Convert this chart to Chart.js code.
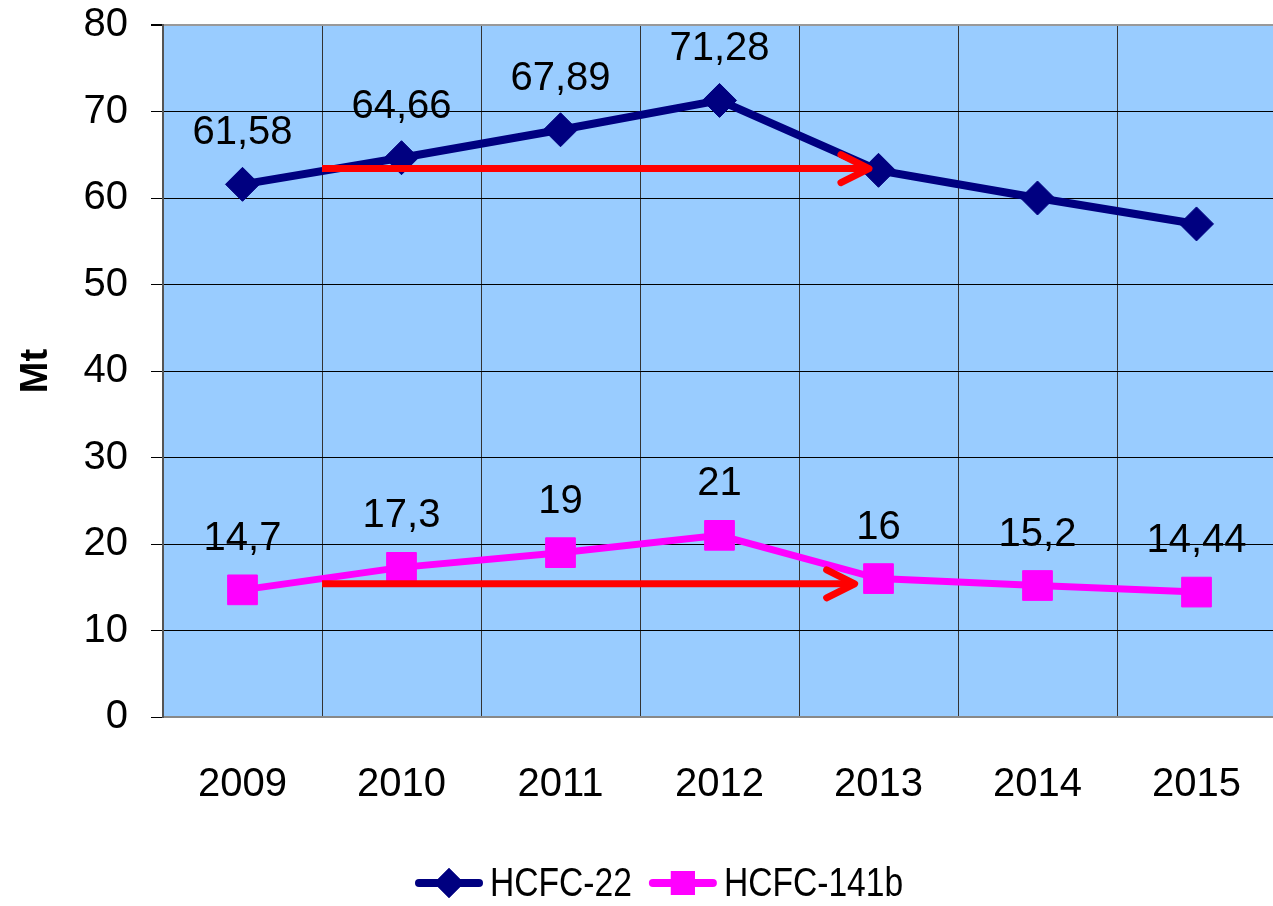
<!DOCTYPE html>
<html>
<head>
<meta charset="utf-8">
<script src="https://cdn.jsdelivr.net/npm/chart.js@4/dist/chart.umd.min.js"></script>
<style>
  html, body { margin: 0; padding: 0; background: #fff; overflow: hidden; }
  #wrap { width: 1273px; height: 906px; overflow: hidden; }
  canvas { display: block; }
</style>
</head>
<body>
<div id="wrap"><canvas id="hcfcChart" width="1280" height="906"></canvas></div>
<script>
// Datos del gráfico
const years = ["2009", "2010", "2011", "2012", "2013", "2014", "2015"];
const hcfc22 = [61.58, 64.66, 67.89, 71.28, 63.2, 60.0, 57.0];
const hcfc141b = [14.7, 17.3, 19, 21, 16, 15.2, 14.44];
// Cuántos puntos de cada serie llevan etiqueta
const labeled22 = 4;
const labeled141b = 7;
const yTicks = [0, 10, 20, 30, 40, 50, 60, 70, 80];

// Flechas rojas (índice de categoría inicial/final y nivel en Mt)
const arrowFrom = [0.5, 0.5];
const arrowTo = [3.94, 3.85];
const arrowLevel = [63.4, 15.4];

const NAVY = "#000080";
const MAGENTA = "#FF00FF";
const FONT = "'Liberation Sans', Arial, sans-serif";

Chart.defaults.font.family = FONT;
Chart.defaults.color = "#000";

const fmt = (v) => String(v).replace(".", ",");

// Fondo azul del área de trazado
const plotBackground = {
  id: "plotBackground",
  beforeDraw(chart) {
    const { ctx, chartArea: a } = chart;
    ctx.save();
    ctx.fillStyle = "#99CCFF";
    ctx.fillRect(a.left, a.top, a.right - a.left, a.bottom - a.top);
    ctx.restore();
  },
};

// Flechas rojas horizontales
const arrows = {
  id: "arrows",
  afterDatasetsDraw(chart) {
    const { ctx, scales } = chart;
    ctx.save();
    ctx.strokeStyle = "#FF0000";
    ctx.lineWidth = 7;
    arrowLevel.forEach((lvl, i) => {
      const y = scales.y.getPixelForValue(lvl);
      const x0 = scales.x.getPixelForValue(arrowFrom[i]);
      const x1 = scales.x.getPixelForValue(arrowTo[i]);
      ctx.lineCap = "butt";
      ctx.beginPath();
      ctx.moveTo(x0, y);
      ctx.lineTo(x1 - 3, y);
      ctx.stroke();
      ctx.lineCap = "round";
      ctx.lineJoin = "round";
      ctx.beginPath();
      ctx.moveTo(x1 - 28, y - 14);
      ctx.lineTo(x1, y);
      ctx.lineTo(x1 - 28, y + 14);
      ctx.stroke();
    });
    ctx.restore();
  },
};

// Etiquetas de valores sobre los puntos
const valueLabels = {
  id: "valueLabels",
  afterDatasetsDraw(chart) {
    const { ctx } = chart;
    const counts = [labeled22, labeled141b];
    ctx.save();
    ctx.font = "40px " + FONT;
    ctx.fillStyle = "#000";
    ctx.textAlign = "center";
    ctx.textBaseline = "middle";
    chart.data.datasets.forEach((ds, di) => {
      const meta = chart.getDatasetMeta(di);
      meta.data.forEach((pt, i) => {
        if (i >= counts[di]) return;
        ctx.fillText(fmt(ds.data[i]), pt.x, pt.y - 51);
      });
    });
    ctx.restore();
  },
};

// Leyenda con línea + marcador
const lineLegend = {
  id: "lineLegend",
  afterDraw(chart) {
    const { ctx } = chart;
    const y = 883;
    let x = 415;
    ctx.save();
    chart.data.datasets.forEach((ds) => {
      ctx.strokeStyle = ds.borderColor;
      ctx.lineWidth = 8;
      ctx.lineCap = "round";
      ctx.beginPath();
      ctx.moveTo(x + 4, y);
      ctx.lineTo(x + 64, y);
      ctx.stroke();
      ctx.fillStyle = ds.borderColor;
      Chart.helpers.drawPoint(
        ctx,
        { pointStyle: ds.pointStyle, radius: ds.pointStyle === "rect" ? 17 : 15, borderWidth: 0 },
        x + 34,
        y
      );
      ctx.fill();
      // texto algo comprimido horizontalmente, como en el original
      ctx.save();
      ctx.translate(x + 75, y);
      ctx.scale(0.84, 1);
      ctx.font = "40px " + FONT;
      ctx.fillStyle = "#000";
      ctx.textAlign = "left";
      ctx.textBaseline = "middle";
      ctx.fillText(ds.label, 0, 2);
      const w = ctx.measureText(ds.label).width * 0.84;
      ctx.restore();
      x += 75 + w + 17;
    });
    ctx.restore();
  },
};

new Chart(document.getElementById("hcfcChart"), {
  type: "line",
  data: {
    labels: years,
    datasets: [
      {
        label: "HCFC-22",
        data: hcfc22,
        borderColor: NAVY,
        backgroundColor: NAVY,
        borderWidth: 8,
        pointStyle: "rectRot",
        pointRadius: 17,
        pointBorderWidth: 1,
        pointBackgroundColor: NAVY,
        pointBorderColor: NAVY,
        tension: 0,
      },
      {
        label: "HCFC-141b",
        data: hcfc141b,
        borderColor: MAGENTA,
        backgroundColor: MAGENTA,
        borderWidth: 7,
        pointStyle: "rect",
        pointRadius: 21,
        pointBorderWidth: 1,
        pointBackgroundColor: MAGENTA,
        pointBorderColor: MAGENTA,
        tension: 0,
      },
    ],
  },
  options: {
    responsive: false,
    animation: false,
    layout: { autoPadding: false, padding: { left: 0, top: 25, right: 4, bottom: 0 } },
    plugins: {
      legend: { display: false },
      tooltip: { enabled: false },
    },
    scales: {
      x: {
        offset: true,
        afterFit: (s) => {
          s.height = 189;
          s.paddingLeft = 0;
          s.paddingRight = 0;
        },
        grid: { offset: true, color: "#333", lineWidth: 1, drawTicks: false },
        border: { display: true, color: "#888", width: 2 },
        ticks: { font: { size: 40 }, padding: 44, color: "#000" },
      },
      y: {
        min: 0,
        max: 80,
        afterFit: (s) => {
          s.width = 163;
          s.paddingTop = 0;
          s.paddingBottom = 0;
        },
        afterBuildTicks: (s) => { s.ticks = yTicks.map((v) => ({ value: v })); },
        grid: {
          color: (c) => (c.tick.value === 80 ? "#999" : c.tick.value === 0 ? "rgba(0,0,0,0)" : "#000"),
          lineWidth: (c) => (c.tick.value === 80 ? 2 : 1),
          tickColor: "#000",
          tickLength: 12,
        },
        border: { display: true, color: "#555", width: 2 },
        ticks: { font: { size: 40 }, padding: 23, color: "#000" },
        title: {
          display: true,
          text: "Mt",
          font: { size: 38, weight: "bold" },
          color: "#000",
          padding: { top: 14, bottom: 0 },
        },
      },
    },
  },
  plugins: [plotBackground, arrows, valueLabels, lineLegend],
});
</script>
</body>
</html>
